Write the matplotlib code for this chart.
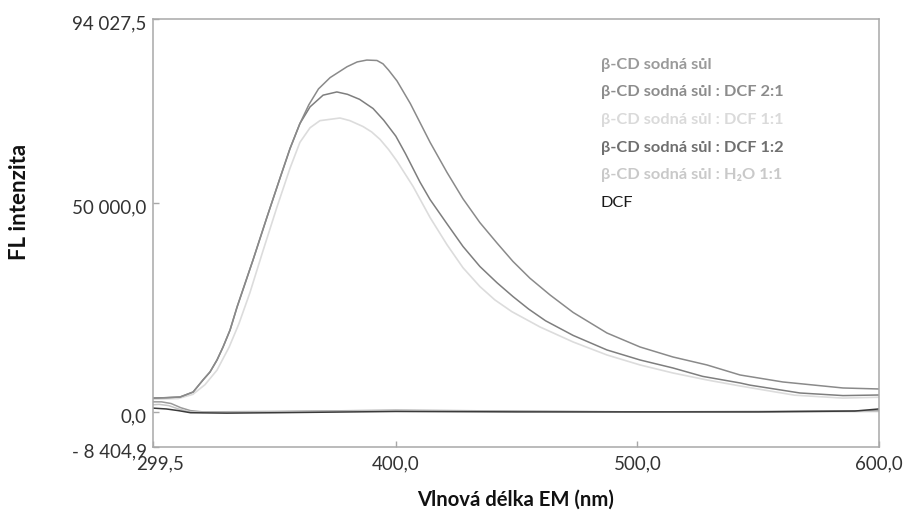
import matplotlib
matplotlib.use("Agg")
import matplotlib.pyplot as plt
import matplotlib.transforms as mtransforms

# Emission spectra (wavelength in nm, fluorescence intensity)
wl_21 = [299.5, 305, 310.7, 316.1, 320.2, 323.1, 326.0, 328.5, 331.4, 334.3, 340.9,
         346.7, 352.1, 356.2, 360.3, 364.0, 368.0, 372.8, 379.8, 384.0, 388.0, 392.2,
         394.7, 397.0, 400.5, 406.0, 414.2, 421.2, 427.8, 434.8, 441.9, 448.5, 455.5,
         463.8, 473.4, 487.4, 501.1, 514.7, 528.8, 542.5, 560.2, 585.1, 600.0]
fl_21 = [3300, 3400, 3560, 4750, 7640, 9550, 12420, 15530, 19600, 25100, 36360,
         46650, 56000, 63000, 69000, 73500, 77300, 80000, 82600, 83750, 84200, 84100,
         83300, 81800, 79200, 73800, 64500, 57300, 51000, 45300, 40400, 36000, 32000,
         28000, 23800, 18880, 15530, 13140, 11230, 8830, 7160, 5720, 5480]

wl_12 = [299.5, 305, 310.7, 316.1, 320.2, 323.1, 326.0, 328.5, 331.4, 334.3, 340.9,
         346.7, 352.1, 356.2, 360.3, 364.5, 369.9, 375.6, 380.0, 385.0, 390.6, 395.0,
         400.0, 404.0, 410.0, 414.2, 421.2, 427.8, 434.8, 441.9, 448.5, 455.0, 462.0,
         473.4, 487.4, 501.1, 514.7, 527.0, 542.5, 546.6, 567.3, 585.1, 600.0]
fl_12 = [3300, 3400, 3560, 4750, 7640, 9550, 12420, 15530, 19600, 25100, 36360,
         46650, 56000, 63000, 69000, 73000, 75800, 76570, 76000, 74800, 72600, 69800,
         66000, 61800, 55000, 50800, 45000, 39600, 34800, 30900, 27600, 24600, 21800,
         18300, 14820, 12420, 10510, 8500, 6920, 6400, 4520, 3900, 4040]

wl_11 = [299.5, 310, 316, 321, 326, 331, 335, 339.6, 345.0, 350.8, 356.2, 360.3,
         364.5, 368.6, 376.9, 381.0, 386.4, 390.0, 393.5, 397.0, 400.5, 407.1, 414.2,
         421.2, 427.8, 434.8, 441.0, 448.0, 459.7, 473.4, 487.4, 501.1, 514.7, 528.8,
         542.5, 565.0, 585.0, 600.0]
fl_11 = [3000, 3200, 4200, 6500, 10000, 15500, 21000, 28500, 38500, 49000, 58300, 64500,
         68000, 69700, 70330, 69700, 68300, 67000, 65200, 62800, 60000, 54000, 46500,
         40000, 34500, 30000, 26800, 24000, 20320, 16730, 13620, 11230, 9310, 7640,
         6200, 4000, 3300, 3500]

wl_cd = [299.5, 303, 307, 311, 315, 320, 350, 400, 450, 500, 550, 600]
fl_cd = [2400, 2400, 2000, 1000, 300, 0, 100, 400, 200, 0, 100, 300]

wl_h2o = [299.5, 302, 306, 310, 314, 320, 350, 400, 450, 500, 550, 600]
fl_h2o = [1700, 1800, 1500, 700, 100, -100, 0, 300, 100, 0, 0, 100]

wl_dcf = [299.5, 305, 310, 315, 330, 350, 400, 450, 500, 550, 590, 600]
fl_dcf = [900, 700, 300, -200, -300, -200, 100, 0, 0, 0, 200, 700]

series_labels = ["β-CD sodná sůl", "β-CD sodná sůl : DCF 2:1", "β-CD sodná sůl : DCF 1:1",
                 "β-CD sodná sůl : DCF 1:2", "β-CD sodná sůl : H₂O 1:1", "DCF"]
text_colors = ["#9a9a9a", "#8c8c8c", "#dadada", "#6f6f6f", "#c9c9c9", "#1a1a1a"]

y_ticks = [-8404.9, 0.0, 50000.0, 94027.5]
y_ticklabels = ["- 8 404,9", "0,0", "50 000,0", "94 027,5"]
x_ticks = [299.5, 400.0, 500.0, 600.0]
x_ticklabels = ["299,5", "400,0", "500,0", "600,0"]

W, H = 908, 519
fig = plt.figure(figsize=(W / 100, H / 100), dpi=100)
ax = fig.add_axes([153 / W, (H - 447) / H, 726 / W, 428 / H])

ax.plot(wl_cd, fl_cd, color="#9a9a9a", lw=1.1)
ax.plot(wl_h2o, fl_h2o, color="#c4c4c4", lw=1.1)
ax.plot(wl_11, fl_11, color="#dcdcdc", lw=1.2)
ax.plot(wl_12, fl_12, color="#7e7e7e", lw=1.1)
ax.plot(wl_21, fl_21, color="#8a8a8a", lw=1.1)
ax.plot(wl_dcf, fl_dcf, color="#3a3a3a", lw=1.1)

ax.set_xlim(299.5, 600.0)
ax.set_ylim(-8404.9, 94027.5)

ax.set_xticks(x_ticks)
ax.set_xticklabels(x_ticklabels)
ax.set_yticks(y_ticks)
ax.set_yticklabels(y_ticklabels)

for sp in ax.spines.values():
    sp.set_color("#a8a8a8")
    sp.set_linewidth(1.1)

ax.tick_params(direction="in", length=4, width=1, color="#a8a8a8",
               labelsize=13.5, labelcolor="#333333")
ax.tick_params(axis="y", pad=4.5)
ax.tick_params(axis="x", pad=6)
for lab in ax.get_yticklabels() + ax.get_xticklabels():
    lab.set_fontfamily("Lato")

shift_y = mtransforms.ScaledTranslation(0, -3.5 / 100, fig.dpi_scale_trans)
for lab in ax.get_yticklabels():
    lab.set_transform(lab.get_transform() + shift_y)
first = ax.get_xticklabels()[0]
first.set_transform(first.get_transform() +
                    mtransforms.ScaledTranslation(7 / 100, 0, fig.dpi_scale_trans))

# Text-only legend
row_y = [65, 92, 120, 148, 175, 203]
for lbl, col, yy in zip(series_labels, text_colors, row_y):
    weight = "normal" if lbl == "DCF" else "bold"
    fig.text(601 / W, 1 - yy / H, lbl, color=col, fontsize=11.8, fontweight=weight,
             family=["Lato", "DejaVu Sans"], ha="left", va="center")

fig.text(20 / W, 1 - 202 / H, "FL intenzita", rotation=90, fontsize=16,
         fontweight="bold", family="Lato", ha="center", va="center", color="#111111")
fig.text(516 / W, 1 - 500 / H, "Vlnová délka EM (nm)", fontsize=14.6,
         fontweight="bold", family="Lato", ha="center", va="center", color="#111111")

fig.savefig("out.png", dpi=100)
